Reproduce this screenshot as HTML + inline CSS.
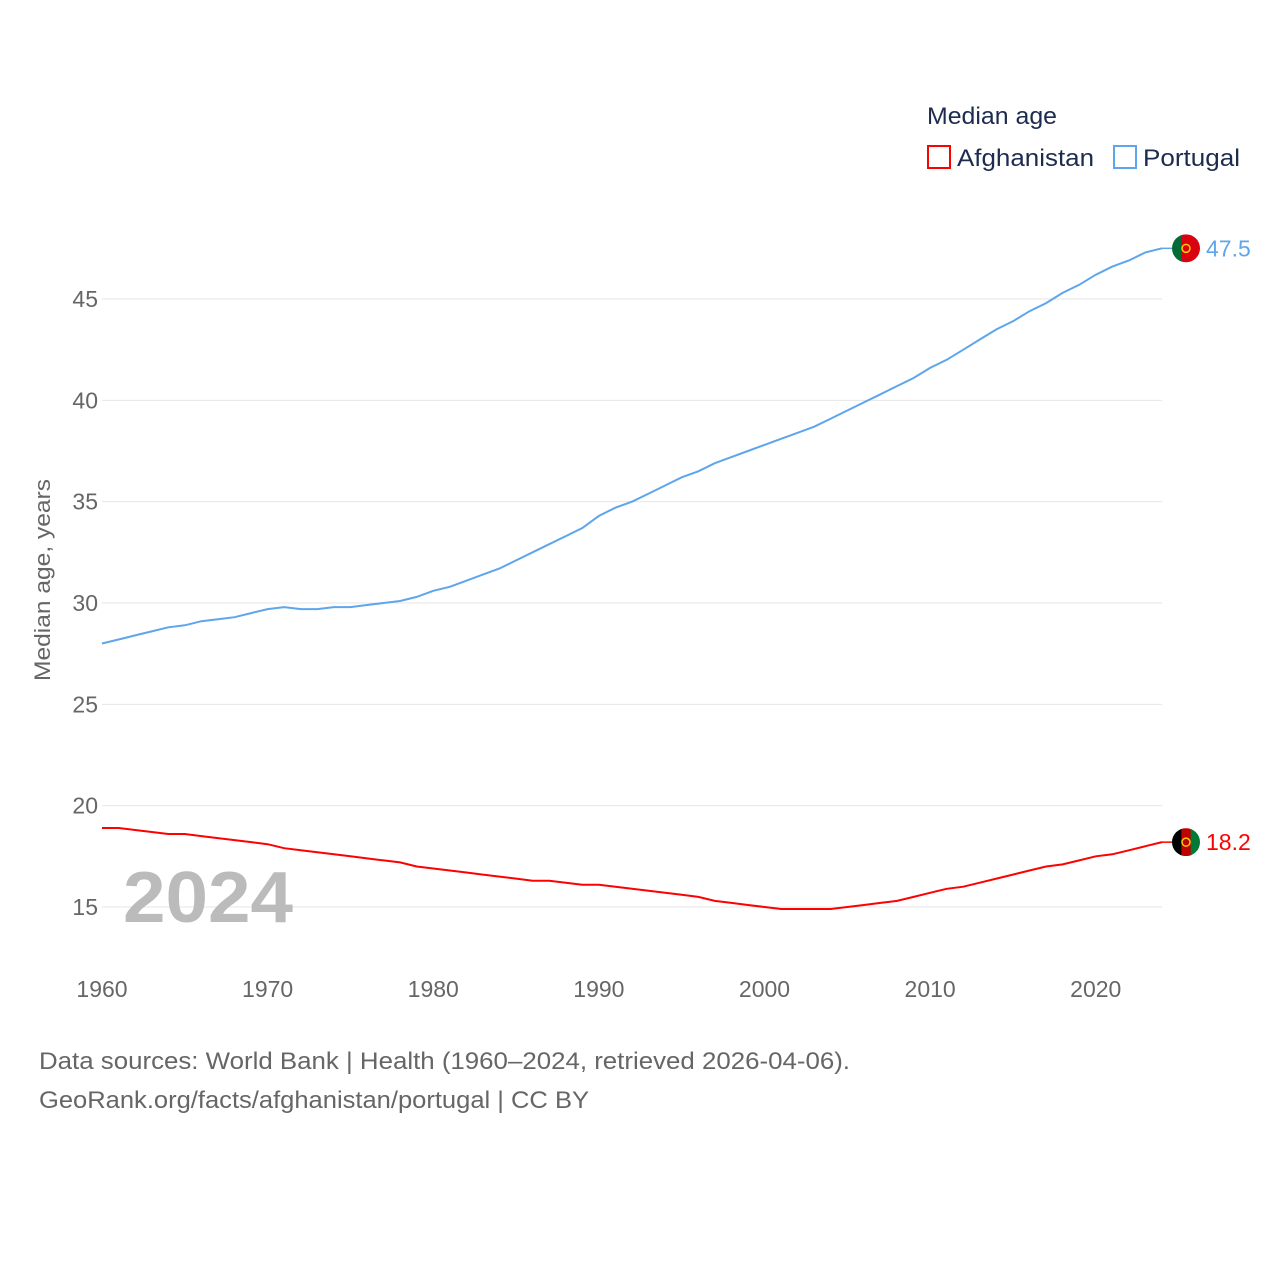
<!DOCTYPE html>
<html><head><meta charset="utf-8"><style>
body{margin:0;background:#fff;font-family:"Liberation Sans",sans-serif}
svg{display:block}
</style></head><body>
<svg id="chart" width="1280" height="1280">
<text x="927" y="124" font-size="24" fill="#1d2b4f" textLength="130" lengthAdjust="spacingAndGlyphs">Median age</text>
<rect x="928" y="146" width="22" height="22" fill="none" stroke="#f00" stroke-width="2"/>
<text x="957" y="166" font-size="24" fill="#1d2b4f" textLength="137" lengthAdjust="spacingAndGlyphs">Afghanistan</text>
<rect x="1114" y="146" width="22" height="22" fill="none" stroke="#5ea5ec" stroke-width="2"/>
<text x="1143" y="166" font-size="24" fill="#1d2b4f" textLength="97" lengthAdjust="spacingAndGlyphs">Portugal</text>
<g id="grid"></g><g id="xt"></g>
<text x="123" y="922" font-size="72" font-weight="bold" fill="#bbb" textLength="170" lengthAdjust="spacingAndGlyphs">2024</text>
<text transform="translate(50,580) rotate(-90)" font-size="22" fill="#666" text-anchor="middle" textLength="202" lengthAdjust="spacingAndGlyphs">Median age, years</text>
<g id="series"></g>
<text x="39" y="1069" font-size="24" fill="#666" textLength="811" lengthAdjust="spacingAndGlyphs">Data sources: World Bank | Health (1960–2024, retrieved 2026-04-06).</text>
<text x="39" y="1108" font-size="24" fill="#666" textLength="550" lengthAdjust="spacingAndGlyphs">GeoRank.org/facts/afghanistan/portugal | CC BY</text>
</svg>
<script>
const years=[];for(let y=1960;y<=2024;y++)years.push(y);
const portugal=[28.0,28.2,28.4,28.6,28.8,28.9,29.1,29.2,29.3,29.5,29.7,29.8,29.7,29.7,29.8,29.8,29.9,30.0,30.1,30.3,30.6,30.8,31.1,31.4,31.7,32.1,32.5,32.9,33.3,33.7,34.3,34.7,35.0,35.4,35.8,36.2,36.5,36.9,37.2,37.5,37.8,38.1,38.4,38.7,39.1,39.5,39.9,40.3,40.7,41.1,41.6,42.0,42.5,43.0,43.5,43.9,44.4,44.8,45.3,45.7,46.2,46.6,46.9,47.3,47.5];
const afghanistan=[18.9,18.9,18.8,18.7,18.6,18.6,18.5,18.4,18.3,18.2,18.1,17.9,17.8,17.7,17.6,17.5,17.4,17.3,17.2,17.0,16.9,16.8,16.7,16.6,16.5,16.4,16.3,16.3,16.2,16.1,16.1,16.0,15.9,15.8,15.7,15.6,15.5,15.3,15.2,15.1,15.0,14.9,14.9,14.9,14.9,15.0,15.1,15.2,15.3,15.5,15.7,15.9,16.0,16.2,16.4,16.6,16.8,17.0,17.1,17.3,17.5,17.6,17.8,18.0,18.2];
const yTicks=[15,20,25,30,35,40,45];
const xTicks=[1960,1970,1980,1990,2000,2010,2020];
const NS="http://www.w3.org/2000/svg";
const X=y=>102+(y-1960)*(1162-102)/64;
const Y=v=>907-(v-15)*(907-299)/30;
function mk(t,a,p){const e=document.createElementNS(NS,t);for(const k in a)e.setAttribute(k,a[k]);p.appendChild(e);return e;}
const g=document.getElementById('grid');
yTicks.forEach(v=>{
 const l=mk('line',{x1:102,x2:1162,y1:Y(v),y2:Y(v),stroke:'#e6e6e6','stroke-width':1},g);
 
 
 const t=mk('text',{x:98,y:Y(v)+8,'font-size':23,fill:'#666','text-anchor':'end'},g);t.textContent=v;
 
 
});
const xt=document.getElementById('xt');
xTicks.forEach(v=>{
 const t=mk('text',{x:X(v),y:997,'font-size':23,fill:'#666','text-anchor':'middle'},xt);t.textContent=v;
 
 
});
const s=document.getElementById('series');
function line(data,col,name){
 const d=data.map((v,i)=>(i?'L':'M')+X(years[i]).toFixed(1)+','+Y(v).toFixed(1)).join('');
 const p=mk('path',{d:d,fill:'none',stroke:col,'stroke-width':2},s);
 
 
 const last=data[data.length-1],cy=Y(last);
 mk('line',{x1:1162,x2:1174,y1:cy,y2:cy,stroke:col,'stroke-width':1.5},s);
 const t=mk('text',{x:1206,y:cy+8,'font-size':23,fill:col},s);t.textContent=last.toFixed(1);
 
 
 return cy;
}
function flag(cy,cols,name){
 const gg=mk('g',{},s);
 
 
 mk('clipPath',{id:'c'+name},gg);
 mk('circle',{cx:1186,cy:cy,r:14},document.getElementById('c'+name));
 const w=28/cols.length;
 cols.forEach((c,i)=>mk('rect',{x:1172+i*w,y:cy-14,width:w+0.5,height:28,fill:c,'clip-path':'url(#c'+name+')'},gg));
 mk('circle',{cx:1186,cy:cy,r:4,fill:'none',stroke:'#fc0','stroke-width':1.5},gg);
}
const cp=line(portugal,'#5ea5ec','portugal');
flag(cp,['#046a38','#da020e','#da020e'],'portugal');
const ca=line(afghanistan,'#f00','afghanistan');
flag(ca,['#000','#be0000','#007a36'],'afghanistan');
</script>
</body></html>
